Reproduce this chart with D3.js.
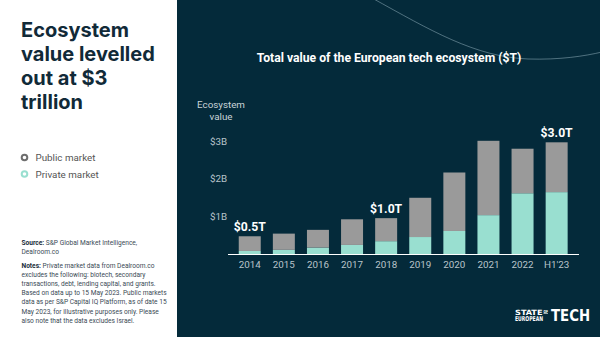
<!DOCTYPE html>
<html><head><meta charset="utf-8">
<script src="https://cdn.jsdelivr.net/npm/d3@7"></script>
<style>
html,body{margin:0;padding:0;background:#fff;}
svg{display:block;}
</style></head>
<body>
<svg id="c" width="600" height="337"></svg>
<script>
const categories = ["2014","2015","2016","2017","2018","2019","2020","2021","2022","H1'23"];
const privateValues = [0.08,0.11,0.17,0.24,0.34,0.45,0.61,1.03,1.61,1.64];
const publicValues  = [0.39,0.43,0.47,0.68,0.61,1.04,1.55,1.97,1.18,1.32];
const yTicks = [1,2,3];
const yTickLabels = ["$1B","$2B","$3B"];
const callouts = [{cat:"2014",label:"$0.5T"},{cat:"2018",label:"$1.0T"},{cat:"H1'23",label:"$3.0T"}];
const seriesNames = ["Public market","Private market"];

const W = 600, H = 337;
const navy = "#042a3a", grey = "#9a9a9a", teal = "#99dfd0";
const FONT = "Roboto, 'Open Sans', sans-serif";
const svg = d3.select("#c");

// panels
svg.append("rect").attr("x",0).attr("y",0).attr("width",177).attr("height",H).attr("fill","#fff");
svg.append("rect").attr("x",177).attr("y",0).attr("width",W-177).attr("height",H).attr("fill",navy);

// decorative arc
svg.append("path")
  .attr("d","M372,-2 C430,30 475,57 528,59 C560,60 585,56 602,52")
  .attr("fill","none").attr("stroke","rgba(170,200,210,0.45)").attr("stroke-width",1);

// headline
const headLines = ["Ecosystem","value levelled","out at $3","trillion"];
svg.append("g").selectAll("text").data(headLines).join("text")
  .attr("x",21).attr("y",(d,i)=>37+i*24)
  .attr("font-family","Inter, Roboto, sans-serif").attr("font-weight",700).attr("font-size",20)
  .attr("fill","#112a38").text(d=>d);

// legend
const leg = svg.append("g");
seriesNames.forEach((n,i)=>{
  const y = 157.5 + i*16.5;
  leg.append("circle").attr("cx",24.5).attr("cy",y).attr("r",2.8)
    .attr("fill","none").attr("stroke", i===0 ? "#6e6e6e" : teal).attr("stroke-width",2);
  leg.append("text").attr("x",35.5).attr("y",y+3.5).attr("font-family",FONT)
    .attr("font-size",9.8).attr("fill","#555").text(n);
});

// source & notes
const small = svg.append("g").attr("font-family",FONT).attr("font-size",6.6).attr("fill","#3a4a55");
const src = small.append("text").attr("x",21.5).attr("y",245);
src.append("tspan").attr("font-weight",700).attr("fill","#1a2e3b").text("Source: ");
src.append("tspan").text("S&P Global Market Intelligence,");
small.append("text").attr("x",21.5).attr("y",254).text("Dealroom.co");
const noteLines = [
  ["Notes: ","Private market data from Dealroom.co"],
  ["","excludes the following: biotech, secondary"],
  ["","transactions, debt, lending capital, and grants."],
  ["","Based on data up to 15 May 2023. Public markets"],
  ["","data as per S&P Capital IQ Platform, as of date 15"],
  ["","May 2023, for illustrative purposes only. Please"],
  ["","also note that the data excludes Israel."]
];
noteLines.forEach((l,i)=>{
  const t = small.append("text").attr("x",21.5).attr("y",268+i*9.1);
  if(l[0]) t.append("tspan").attr("font-weight",700).attr("fill","#1a2e3b").text(l[0]);
  t.append("tspan").text(l[1]);
});

// chart title
svg.append("text").attr("x",389).attr("y",62).attr("text-anchor","middle")
  .attr("font-family",FONT).attr("font-weight",700).attr("font-size",12.2)
  .attr("fill","#fff").text("Total value of the European tech ecosystem ($T)");

// y axis title
svg.append("g").selectAll("text").data(["Ecosystem","value"]).join("text")
  .attr("x",221).attr("y",(d,i)=>108+i*11.5).attr("text-anchor","middle")
  .attr("font-family",FONT).attr("font-size",9.8).attr("fill","#c9d3d8").text(d=>d);

// scales
const x = d3.scaleBand().domain(categories).range([221.7,584.7]).paddingInner(0.355).paddingOuter(0.5);
const y = d3.scaleLinear().domain([0,3]).range([254,140.8]);

// y tick labels
const yAxis = d3.axisLeft(y).tickValues(yTicks).tickFormat((d,i)=>yTickLabels[i]).tickSize(0).tickPadding(0);
const ya = svg.append("g").attr("transform","translate(227,0)").call(yAxis);
ya.select(".domain").remove();
ya.selectAll("text").attr("font-family",FONT).attr("font-size",9.8).attr("fill","#b9c4ca").attr("dy","0.35em");

// stacked bars
const data = categories.map((c,i)=>({cat:c, private:privateValues[i], public:publicValues[i]}));
const stack = d3.stack().keys(["private","public"])(data);
const colors = {private:teal, public:grey};
svg.append("g").selectAll("g").data(stack).join("g").attr("fill",d=>colors[d.key])
  .selectAll("rect").data(d=>d).join("rect")
  .attr("x",d=>x(d.data.cat)).attr("width",x.bandwidth())
  .attr("y",d=>y(d[1])).attr("height",d=>y(d[0])-y(d[1]));

// x axis
const xAxis = d3.axisBottom(x).tickSize(0).tickPadding(7);
const xa = svg.append("g").attr("transform","translate(0,254)").call(xAxis);
xa.select(".domain").remove();
svg.append("line").attr("x1",228).attr("x2",579).attr("y1",254.5).attr("y2",254.5)
  .attr("stroke","#fff").attr("stroke-width",1.2);
xa.selectAll("text").attr("font-family",FONT).attr("font-size",9.8).attr("fill","#b9c4ca");

// callouts
const totals = {};
data.forEach(d=>totals[d.cat]=d.private+d.public);
svg.append("g").selectAll("text").data(callouts).join("text")
  .attr("x",d=>x(d.cat)+x.bandwidth()/2).attr("y",d=>y(totals[d.cat])-5)
  .attr("text-anchor","middle").attr("font-family",FONT).attr("font-weight",700)
  .attr("font-size",12.2).attr("fill","#fff").text(d=>d.label);

// logo
const logo = svg.append("g").attr("fill","#fff").attr("font-family","'DejaVu Sans Condensed', 'Liberation Sans Narrow', sans-serif").attr("font-weight",700);
logo.append("text").attr("x",515).attr("y",314.5).attr("font-size",7.2).attr("textLength",27.5).attr("lengthAdjust","spacingAndGlyphs").text("STATE");
logo.append("text").attr("x",515).attr("y",321).attr("font-size",6.6).attr("textLength",28).attr("lengthAdjust","spacingAndGlyphs").text("EUROPEAN");
logo.append("text").attr("x",543.5).attr("y",312.5).attr("font-size",4.2).attr("textLength",4.5).attr("lengthAdjust","spacingAndGlyphs").text("OF");
logo.append("line").attr("x1",543.5).attr("x2",548).attr("y1",313.5).attr("y2",313.5).attr("stroke","#fff").attr("stroke-width",0.6);
logo.append("text").attr("x",551).attr("y",321).attr("font-size",16.5).attr("textLength",39).attr("lengthAdjust","spacingAndGlyphs").text("TECH");
</script>
</body></html>
